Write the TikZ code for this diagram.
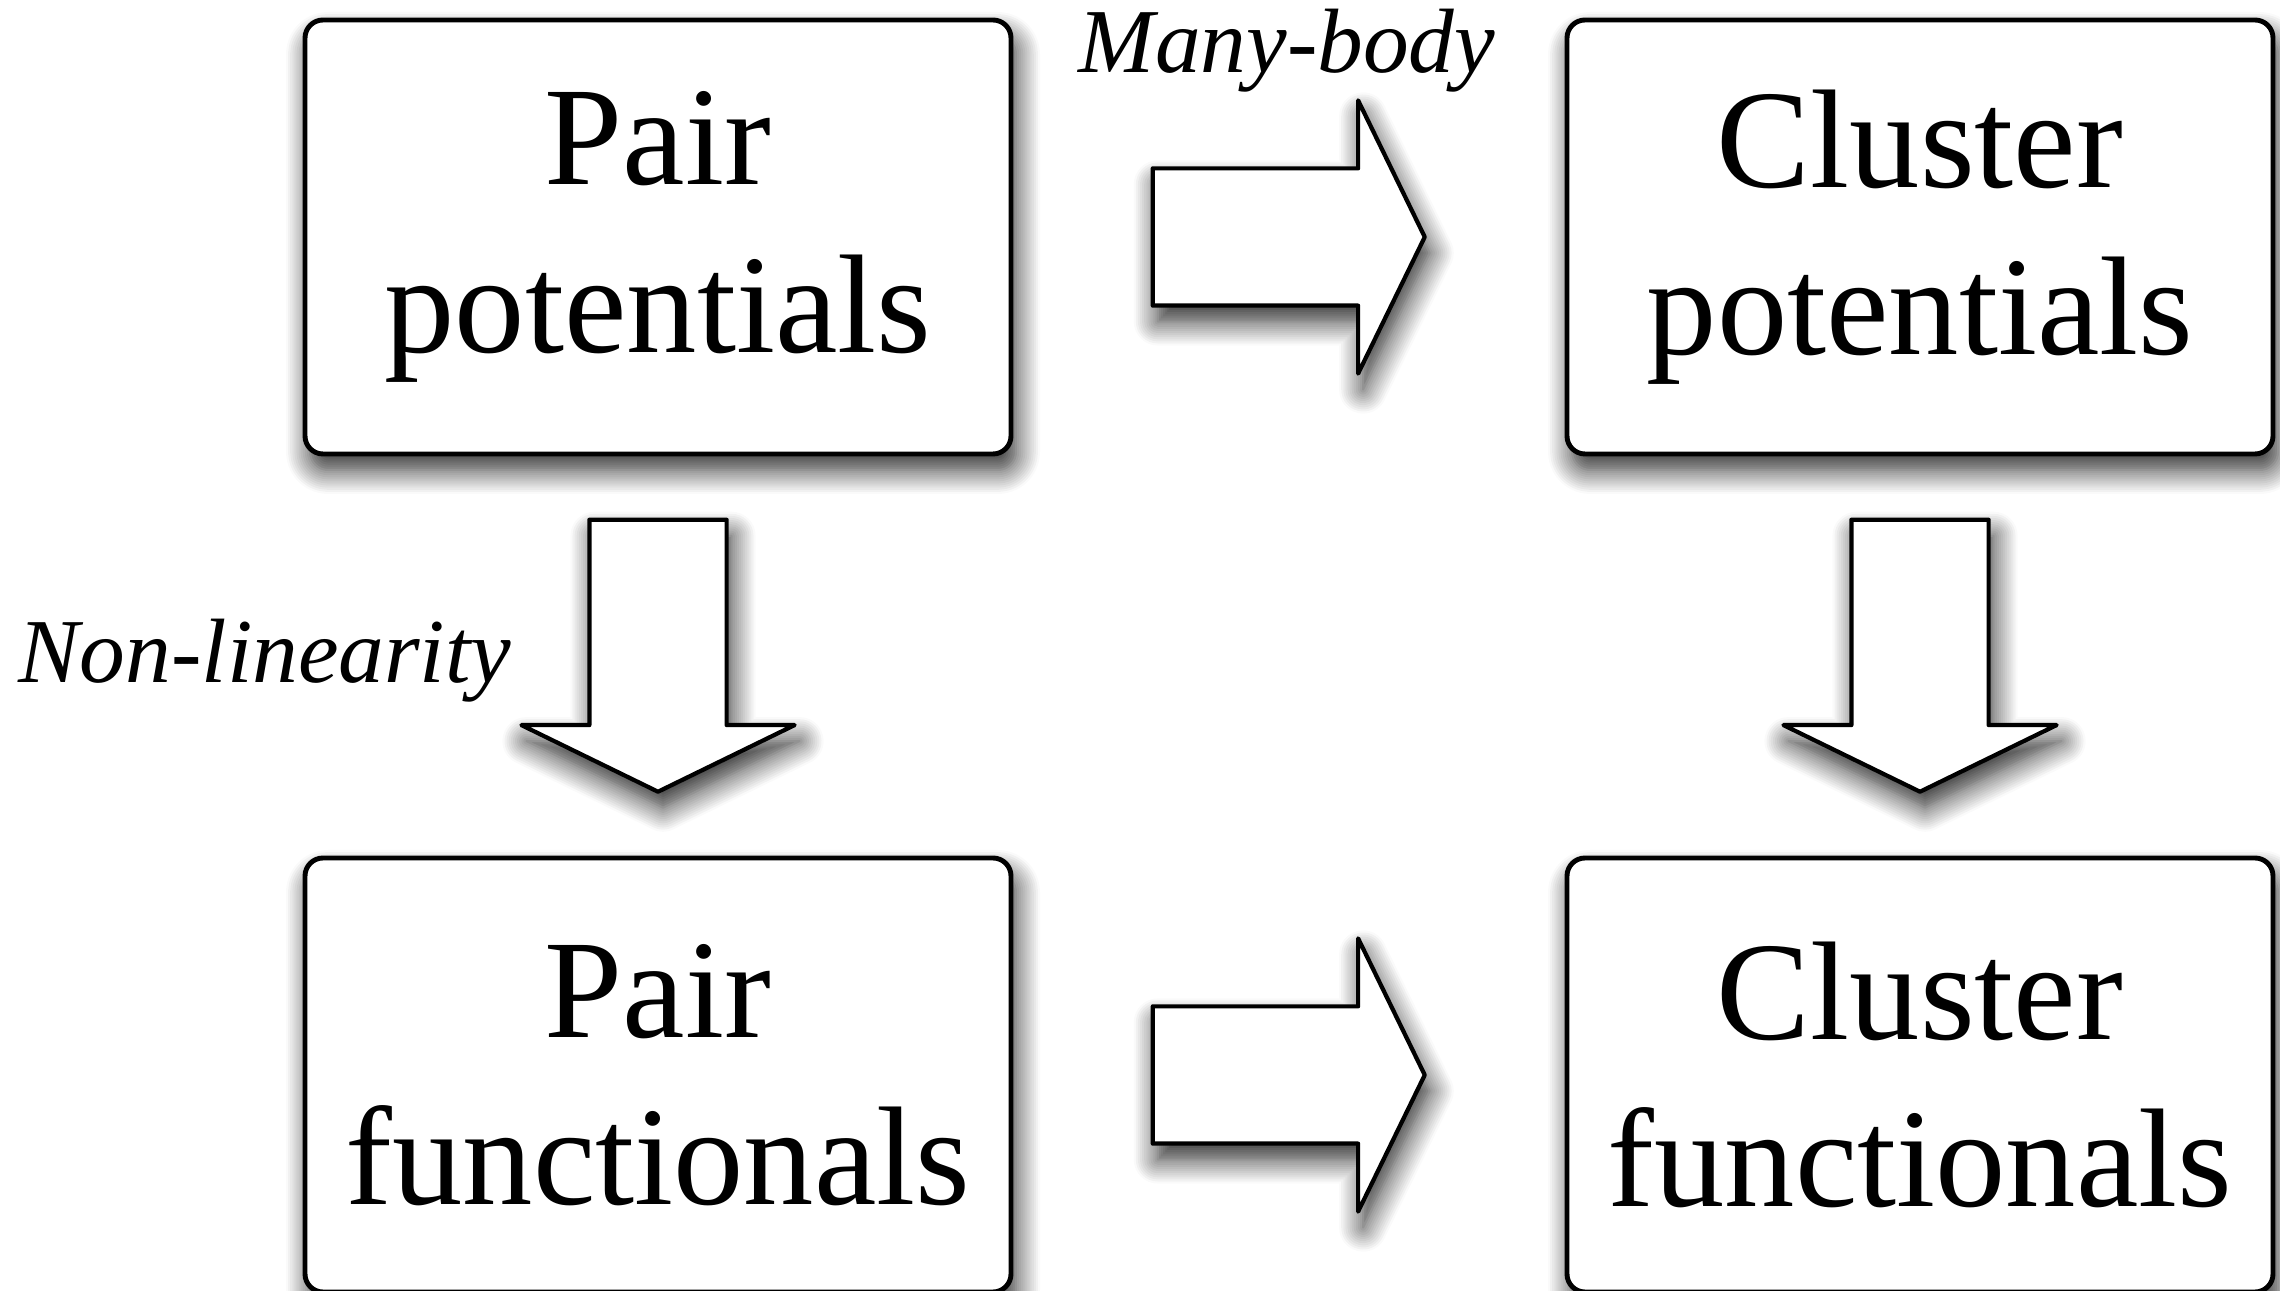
\documentclass[tikz,border=0pt]{standalone}
\usepackage{fontspec}
\setmainfont{Liberation Serif}
\usepackage{tikz}
\usetikzlibrary{shapes,shadows,shadows.blur,calc,positioning}
\definecolor{boxline}{RGB}{0,0,0}
\definecolor{boxfill}{RGB}{255,255,255}
\tikzstyle{block} = [rectangle, rounded corners=0.18cm, minimum width=7.06cm, minimum height=4.34cm, text centered, align=center, draw=boxline, fill=boxfill, line width=1.4pt, font=\fontsize{40}{47.6}\selectfont, blur shadow={shadow xshift=0.05cm, shadow yshift=-0.16cm, shadow blur radius=0.24cm, shadow blur steps=12, shadow opacity=85}]
\tikzstyle{bigarrow} = [single arrow, draw=boxline, fill=boxfill, line width=1.2pt, line join=round, minimum height=2.72cm, single arrow head extend=0.68cm, single arrow tip angle=128, inner sep=0.665cm, blur shadow={shadow xshift=0.05cm, shadow yshift=-0.16cm, shadow blur radius=0.24cm, shadow blur steps=12, shadow opacity=85}]
\tikzstyle{note} = [font=\fontsize{26}{31}\selectfont\itshape, inner sep=0pt]

\begin{document}
\begin{tikzpicture}
    \useasboundingbox (0,0) rectangle (22.8,12.9);

    % Potentials
    \node[block] (pairpot) at (6.58, 10.53) {Pair\\potentials};
    \node[block] (clustpot) at (19.20, 10.53) {Cluster\\potentials};

    % Functionals
    \node[block] (pairfun) at (6.58, 2.15) {Pair\\functionals};
    \node[block] (clustfun) at (19.20, 2.15) {Cluster\\functionals};

    % Arrows
    \node[bigarrow, xshift=-0.17cm] (manyarrow) at ($(pairpot.east)!0.5!(clustpot.west)$) {};
    \node[bigarrow, xshift=-0.17cm] (funarrow) at ($(pairfun.east)!0.5!(clustfun.west)$) {};
    \node[bigarrow, shape border rotate=270, yshift=0.17cm] (nonlinarrow) at ($(pairpot.south)!0.5!(pairfun.north)$) {};
    \node[bigarrow, shape border rotate=270, yshift=0.17cm] (clustarrow) at ($(clustpot.south)!0.5!(clustfun.north)$) {};

    % Labels
    \node[note, anchor=base] (many) at (12.87, 12.17) {Many-body};
    \node[note, anchor=base east] (nonlin) at (5.12, 6.07) {Non-linearity};
\end{tikzpicture}
\end{document}
